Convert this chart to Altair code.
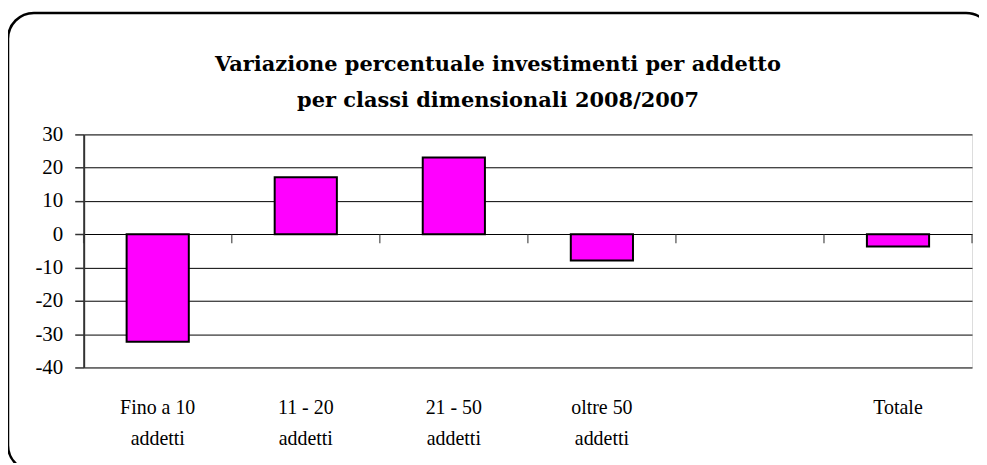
import altair as alt
import pandas as pd

# ---- data ----
categories = ["Fino a 10\naddetti", "11 - 20\naddetti", "21 - 50\naddetti",
              "oltre 50\naddetti", "", "Totale"]
values = [-32.3, 17.1, 23.1, -7.9, None, -3.7]
y_ticks = [-40, -30, -20, -10, 0, 10, 20, 30]
title_lines = ["Variazione percentuale investimenti per addetto",
               "per classi dimensionali 2008/2007"]

df = pd.DataFrame({"cat": categories, "val": values})

W, H = 892, 234
FONT = "Liberation Serif, serif"
TFONT = "DejaVu Serif, serif"

y_scale = alt.Scale(domain=[-40, 30], nice=False, zero=False)
y_axis = alt.Axis(title=None, values=y_ticks, grid=True, labelOverlap=False,
                  gridColor="black", gridWidth=1,
                  domainColor="#333333", domainWidth=2,
                  tickColor="#333333", tickSize=9, tickWidth=1.5,
                  labelFont=FONT, labelFontSize=21, labelColor="black",
                  labelPadding=12, labelExpr="'' + datum.value")

# rounded outer frame (decoration)
frame = alt.Chart(pd.DataFrame({"a": [0]})).mark_rect(
    fill=None, stroke="black", strokeWidth=2.5, cornerRadius=26
).encode(
    x=alt.value(-76), x2=alt.value(912),
    y=alt.value(-122), y2=alt.value(338)
)

bars = alt.Chart(df).mark_bar(
    color="#FF00FF", stroke="black", strokeWidth=2
).encode(
    x=alt.X("cat:N", sort=categories,
            scale=alt.Scale(domain=categories, paddingInner=0.58, paddingOuter=0.29),
            axis=alt.Axis(title=None, domain=False, ticks=False, grid=False,
                          labelAngle=0, labelFont=FONT, labelFontSize=20,
                          labelColor="black", labelPadding=30,
                          labelLineHeight=31, labelBaseline="top",
                          labelExpr="split(datum.label, '\\n')")),
    y=alt.Y("val:Q", scale=y_scale, axis=y_axis)
)

tick_scale = alt.Scale(domain=categories, paddingInner=0, paddingOuter=0)

zero_ticks = alt.Chart(df).mark_tick(
    orient="vertical", color="#333333", size=9, thickness=1.5, yOffset=4.5
).encode(
    x=alt.X("cat:N", sort=categories, scale=tick_scale, bandPosition=0, axis=None),
    y=alt.Y(datum=0, scale=y_scale, axis=y_axis)
)

end_tick = alt.Chart(df).transform_filter(
    alt.datum.cat == categories[-1]
).mark_tick(
    orient="vertical", color="#333333", size=9, thickness=1.5, yOffset=4.5
).encode(
    x=alt.X("cat:N", sort=categories, scale=tick_scale, bandPosition=1, axis=None),
    y=alt.Y(datum=0, scale=y_scale, axis=y_axis)
)

chart = alt.layer(bars, frame, zero_ticks, end_tick).resolve_scale(
    x="independent"
).properties(
    width=W, height=H,
    autosize=alt.AutoSizeParams(type="none"),
    padding={"left": 76, "top": 126, "right": 7, "bottom": 95},
    title=alt.TitleParams(text=title_lines, font=TFONT, fontSize=21,
                          fontWeight="bold", color="black", anchor="middle",
                          frame="group", dx=-30, offset=-100, lineHeight=36)
).configure_view(
    stroke="#808080", strokeWidth=1
).configure(background="white")

chart.save("out.html", embed_options={"renderer": "svg", "actions": False})
